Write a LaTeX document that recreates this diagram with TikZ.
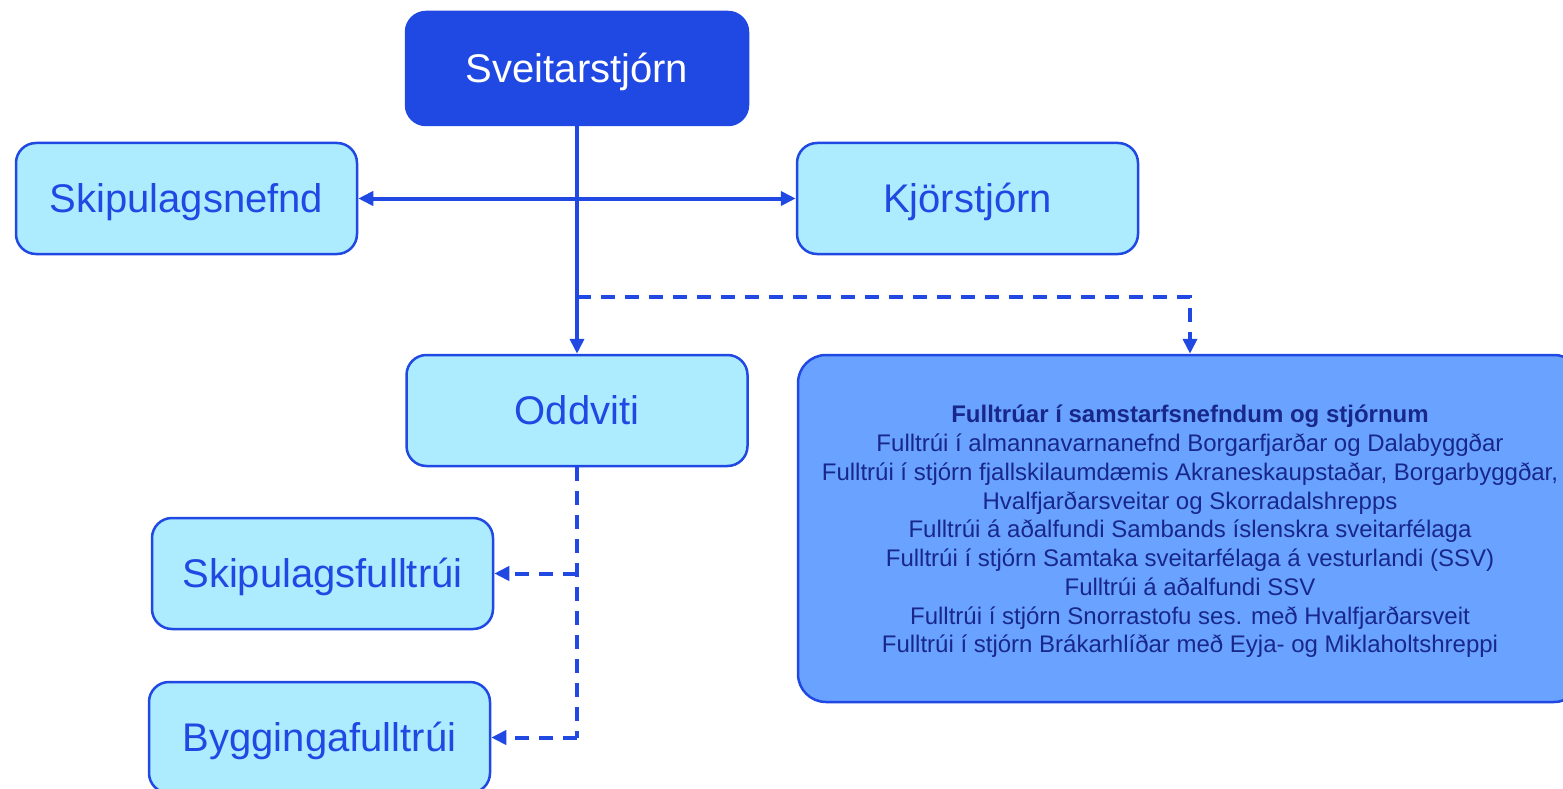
\documentclass[tikz,border=0pt]{standalone}
\usepackage{fontspec}
\setmainfont{Liberation Sans}
\usetikzlibrary{arrows.meta}
\definecolor{dblue}{HTML}{2049E3}
\definecolor{lcyan}{HTML}{ADEBFF}
\definecolor{mblue}{HTML}{6AA2FF}
\definecolor{navy}{HTML}{18288A}
\tikzset{
  topbox/.style={rectangle, rounded corners=20pt, fill=dblue, draw=dblue, line width=2.5pt,
    minimum width=342pt, minimum height=113pt, text=white, font=\fontsize{40}{48}\selectfont,
    inner sep=0pt, text height=28.7pt, text depth=0pt},
  lbox/.style={rectangle, rounded corners=20pt, fill=lcyan, draw=dblue, line width=2.5pt,
    minimum width=341pt, minimum height=111pt, text=dblue, font=\fontsize{40}{48}\selectfont,
    inner sep=0pt, text height=28.7pt, text depth=0pt},
  bigbox/.style={rectangle, rounded corners=28pt, fill=mblue, draw=dblue, line width=2.5pt,
    minimum width=784pt, minimum height=347pt, inner sep=0pt},
  bigtext/.style={text=navy, align=center, font=\fontsize{24}{28.75}\selectfont, inner sep=0pt},
  conn/.style={draw=dblue, line width=4pt, -{Triangle[length=15pt,width=14pt]}},
  conn2/.style={draw=dblue, line width=4pt, {Triangle[length=15pt,width=14pt]}-{Triangle[length=15pt,width=14pt]}},
  dconn/.style={conn, dash pattern=on 14pt off 10pt},
  dline/.style={draw=dblue, line width=4pt, dash pattern=on 14pt off 10pt},
}
\begin{document}
\begin{tikzpicture}[x=1pt,y=-1pt]
\clip (0,0) rectangle (1563,789);
\fill[white] (0,0) rectangle (1563,789);
\node[topbox] (sveit) at (577,68.5) {Sveitarstjórn};
\node[lbox] (skn) at (186.5,198.5) {Skipulagsnefnd};
\node[lbox] (kjor) at (967.5,198.5) {Kjörstjórn};
\node[lbox] (odd) at (577,410.5) {Oddviti};
\node[bigbox] (big) at (1190,528.5) {};
\node[bigtext] (bigt) at ([yshift=-3pt]big.center) {\textbf{Fulltrúar í samstarfsnefndum og stjórnum}\\
Fulltrúi í almannavarnanefnd Borgarfjarðar og Dalabyggðar\\
Fulltrúi í stjórn fjallskilaumdæmis Akraneskaupstaðar, Borgarbyggðar,\\
Hvalfjarðarsveitar og Skorradalshrepps\\
Fulltrúi á aðalfundi Sambands íslenskra sveitarfélaga\\
Fulltrúi í stjórn Samtaka sveitarfélaga á vesturlandi (SSV)\\
Fulltrúi á aðalfundi SSV\\
Fulltrúi í stjórn Snorrastofu ses. með Hvalfjarðarsveit\\
Fulltrúi í stjórn Brákarhlíðar með Eyja- og Miklaholtshreppi};
\node[lbox] (skf) at (322.5,573.5) {Skipulagsfulltrúi};
\node[lbox] (byg) at (319.5,737.5) {Byggingafulltrúi};
\coordinate (d1) at (577,297);
\coordinate (j1) at (577,573.5);
\coordinate (j2) at (577,737.5);
\draw[conn] (sveit.south) -- (odd.north);
\draw[conn2] (skn.east) -- (kjor.west);
\draw[dconn] (d1) -| (big.north);
\draw[dline] (odd.south) -- (j2);
\draw[dconn] (j1) -- (skf.east);
\draw[dconn] (j2) -- (byg.east);
\end{tikzpicture}
\end{document}
